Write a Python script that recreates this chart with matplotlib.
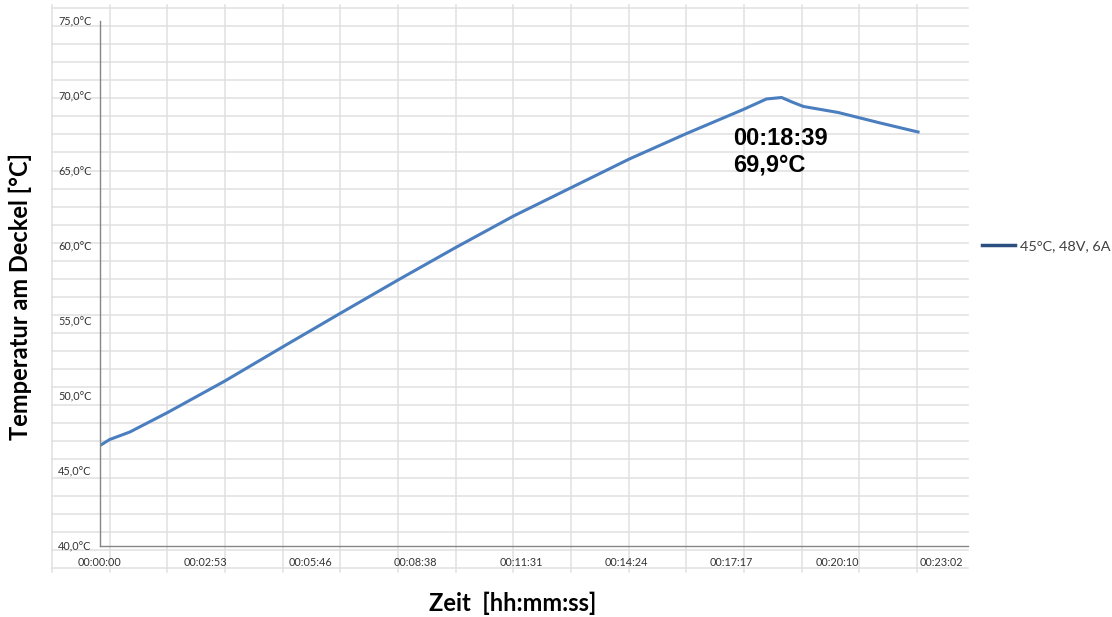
import matplotlib
matplotlib.use('Agg')
import matplotlib.pyplot as plt

# DATA
timeSec = [0, 16, 49, 111, 205, 301, 394, 490, 584, 679, 774, 869, 963, 1056,
           1094, 1119, 1136, 1155, 1212, 1281, 1343]
tempDeckel = [46.7, 47.1, 47.6, 48.9, 51.0, 53.3, 55.5, 57.75, 59.9, 62.0, 63.9,
              65.8, 67.5, 69.1, 69.8, 69.9, 69.6, 69.3, 68.9, 68.2, 67.6]
seriesName = "45°C, 48V, 6A"

xTicks = [0, 173, 346, 518, 691, 864, 1037, 1210, 1382]
xTickLabels = ["00:00:00", "00:02:53", "00:05:46", "00:08:38", "00:11:31",
               "00:14:24", "00:17:17", "00:20:10", "00:23:02"]
yTicks = [40, 45, 50, 55, 60, 65, 70, 75]
yTickLabels = [("%.1f°C" % v).replace('.', ',') for v in yTicks]

peakTime = "00:18:39"
peakTemp = "69,9°C"

W, H = 1112, 617
fig = plt.figure(figsize=(W/100., H/100.), dpi=100)

# background grid (offset from the axis, as in the screenshot)
bg = fig.add_axes([0, 0, 1, 1])
bg.set_xlim(0, W)
bg.set_ylim(H, 0)
bg.axis('off')
gridcol = '#E0E0E0'
for k in range(16):
    bg.plot([52 + 57.67*k]*2, [5, 572], color=gridcol, lw=1.1)
for k in range(32):
    bg.plot([52, 968], [8 + 18.06*k]*2, color=gridcol, lw=1.1)

# main axes
ax = fig.add_axes([100./W, 1 - 546./H, 868./W, 525./H])
ax.patch.set_alpha(0)
ax.set_xlim(0, 1425)
ax.set_ylim(40, 75)
for s in ['top', 'right']:
    ax.spines[s].set_visible(False)
for s in ['left', 'bottom']:
    ax.spines[s].set_color('#868686')
    ax.spines[s].set_linewidth(1.0)

line, = ax.plot(timeSec, tempDeckel, color='#4A7EBF', lw=2.2, label=seriesName)

ax.set_xticks(xTicks)
ax.set_xticklabels(xTickLabels, family='Lato', fontsize=7.8, color='#333333')
ax.set_yticks(yTicks)
ax.set_yticklabels(yTickLabels, family='Lato', fontsize=7.8, color='#333333', ha='left')
ax.tick_params(axis='x', length=0, pad=8)
ax.tick_params(axis='y', length=0, pad=30)

# annotation at peak
annX = (733 - 100) / 868. * 1425
ax.text(annX, 66.3, peakTime + "\n" + peakTemp, family='Liberation Sans',
        fontweight='bold', fontsize=17, color='black', ha='left', va='center')

# axis titles
fig.text(20./W, 1 - 297./H, "Temperatur am Deckel [°C]", family='Lato',
         fontweight='bold', fontsize=17, rotation=90, ha='center', va='center')
fig.text(513./W, 1 - 603./H, "Zeit  [hh:mm:ss]", family='Lato',
         fontweight='bold', fontsize=17, ha='center', va='center')

# legend
leg = ax.legend(loc='center left', bbox_to_anchor=(982./W, 1 - 246./H),
                bbox_transform=fig.transFigure, frameon=False,
                prop={'family': 'Lato', 'size': 10.4}, handlelength=2.3,
                handletextpad=0.3, borderpad=0, borderaxespad=0)
leg.get_lines()[0].set_color('#2B4F80')
leg.get_lines()[0].set_linewidth(2.5)
for t in leg.get_texts():
    t.set_color('#404040')

plt.savefig('out.png', dpi=100)
